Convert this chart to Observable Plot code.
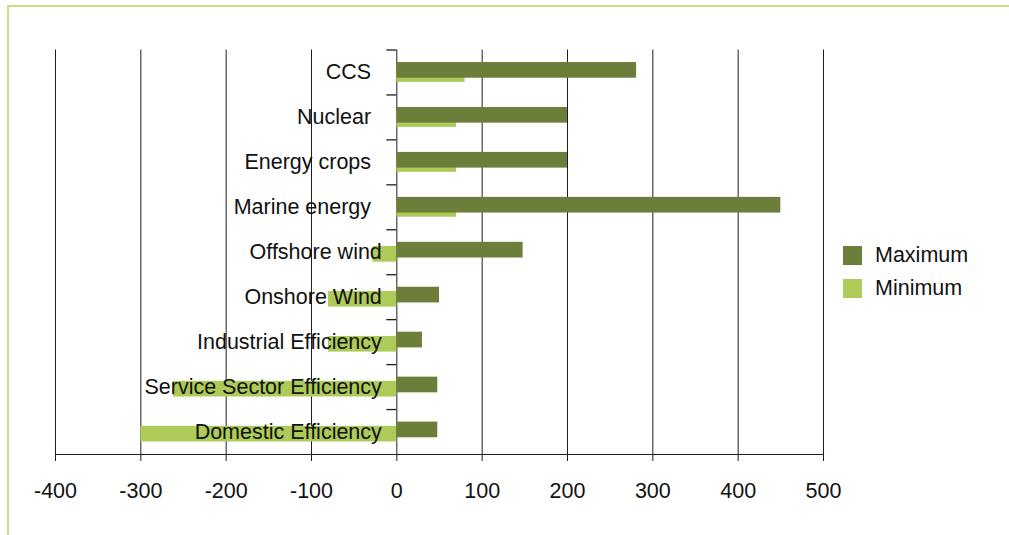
<!DOCTYPE html>
<html>
<head>
<meta charset="utf-8">
<script src="https://cdn.jsdelivr.net/npm/d3@7"></script>
<script src="https://cdn.jsdelivr.net/npm/@observablehq/plot@0.6"></script>
<style>
  html, body { margin: 0; padding: 0; background: #fff; }
  body { font-family: "Liberation Sans", Arial, Helvetica, sans-serif; }
  #wrap { position: relative; width: 1009px; height: 535px; overflow: hidden; }
  #border { position: absolute; left: 7px; top: 5px; width: 1100px; height: 600px;
            border-left: 2px solid #c6de88; border-top: 2px solid #c6de88; }
  #chart { position: absolute; left: 0; top: 0; }
  #legend { position: absolute; left: 843px; top: 239.5px; font-size: 21.5px; color: #111; }
  .item { display: flex; align-items: center; height: 32.5px; }
  .sw { width: 19px; height: 19px; margin-right: 13px; }
</style>
</head>
<body>
<div id="wrap">
  <div id="border"></div>
  <div id="chart"></div>
  <div id="legend"></div>
</div>
<script>
// ---- data ----
const categories = ["CCS", "Nuclear", "Energy crops", "Marine energy", "Offshore wind",
  "Onshore Wind", "Industrial Efficiency", "Service Sector Efficiency", "Domestic Efficiency"];
const tickLabels = ["CCS\u2002", "Nuclear\u2002", "Energy crops\u2002", "Marine energy\u2002", "Offshore wind",
  "Onshore Wind", "Industrial Efficiency", "Service Sector Efficiency", "Domestic Efficiency"];
const maximum = [281, 200, 200, 450, 148, 50, 30, 48, 48];
const minimum = [80, 70, 70, 70, -28, -80, -80, -262, -300];
const seriesNames = ["Maximum", "Minimum"];
const seriesColors = ["#6b7e3a", "#aecb5a"];
const xTicks = [-400, -300, -200, -100, 0, 100, 200, 300, 400, 500];

// ---- layout ----
const W = 1009, H = 535, mL = 55, mR = 186, mT = 49.5, mB = 81;
const xDomain = [-400, 500];
const x0px = mL + (0 - xDomain[0]) / (xDomain[1] - xDomain[0]) * (W - mL - mR);
const step = (H - mT - mB) / categories.length;

const maxData = categories.map((c, i) => ({category: c, series: seriesNames[0], value: maximum[i]}));
const minData = categories.map((c, i) => ({category: c, series: seriesNames[1], value: minimum[i]}));

const font = '"Liberation Sans", Arial, Helvetica, sans-serif';
const ink = "#1e1e1e";

const chart = Plot.plot({
  width: W, height: H,
  marginLeft: mL, marginRight: mR, marginTop: mT, marginBottom: mB,
  style: {fontFamily: font, fontSize: "21.5px", color: "#111", background: "transparent", overflow: "visible"},
  x: {domain: xDomain, ticks: xTicks, label: null},
  y: {domain: categories, paddingInner: 0.651, paddingOuter: 0.3255, round: false, label: null},
  color: {domain: seriesNames, range: seriesColors},
  marks: [
    Plot.gridX(xTicks, {stroke: ink, strokeOpacity: 1, strokeWidth: 1}),
    Plot.barX(minData, {x: "value", y: "category", fill: "series", dy: 2.1}),
    Plot.barX(maxData, {x: "value", y: "category", fill: "series", dy: -2.1}),
    Plot.axisY({anchor: "left", tickSize: 10, tickFormat: () => "", dx: x0px - mL, dy: -step / 2,
                stroke: ink, strokeWidth: 1.3, label: null}),
    Plot.axisY({anchor: "left", tickSize: 0, tickPadding: 15, dx: x0px - mL, label: null,
                fontSize: 21.5, tickFormat: d => tickLabels[categories.indexOf(d)]}),
    Plot.axisX(xTicks, {anchor: "bottom", tickSize: 7, tickPadding: 21, fontSize: 21.5,
                stroke: ink, label: null, tickFormat: d => String(d)}),
    Plot.frame({anchor: "bottom", stroke: ink, strokeWidth: 1.2})
  ]
});
document.getElementById("chart").appendChild(chart);

// ---- legend ----
const legend = document.getElementById("legend");
seriesNames.forEach((name, i) => {
  const item = document.createElement("div");
  item.className = "item";
  const sw = document.createElement("div");
  sw.className = "sw";
  sw.style.background = seriesColors[i];
  const label = document.createElement("span");
  label.textContent = name;
  item.appendChild(sw);
  item.appendChild(label);
  legend.appendChild(item);
});
</script>
</body>
</html>
